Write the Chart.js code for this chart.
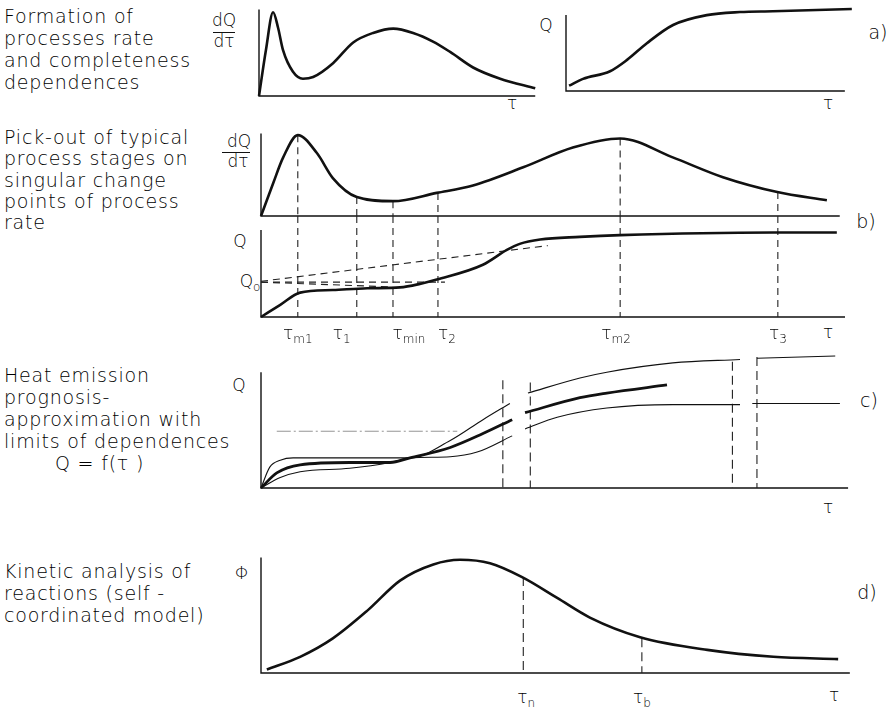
<!DOCTYPE html>
<html>
<head>
<meta charset="utf-8">
<script src="https://cdn.jsdelivr.net/npm/chart.js@4.4.1/dist/chart.umd.min.js"></script>
<style>
  html, body { margin: 0; padding: 0; background: #fff; }
  body { position: relative; width: 893px; height: 708px; overflow: hidden; font-family: "DejaVu Sans", sans-serif; font-weight: 200; color: #000; }
  canvas { position: absolute; }
  .note { position: absolute; left: 4px; font-size: 19px; line-height: 22px; letter-spacing: 0.8px; white-space: nowrap; }
  .lbl { position: absolute; transform: translate(-50%, -50%); line-height: 1; white-space: nowrap; font-size: 17px; }
  .tau { font-style: normal; font-weight: 200; }
  .lbl sub { font-style: normal; font-size: 12px; vertical-align: -4px; }
  .bar { position: absolute; height: 0; border-top: 1.5px solid #111; }
</style>
</head>
<body>

<div class="note" style="top:5px">Formation of<br>processes rate<br>and completeness<br>dependences</div>
<div class="note" style="top:127px;line-height:21.3px">Pick-out of typical<br>process stages on<br>singular change<br>points of process<br>rate</div>
<div class="note" style="top:364px">Heat emission<br>prognosis-<br>approximation with<br>limits of dependences<br><span style="padding-left:51px">Q = f(<span class="tau">τ</span> )</span></div>
<div class="note" style="top:560px">Kinetic analysis of<br>reactions (self -<br>coordinated model)</div>

<div class="lbl" style="left:224px;top:20px">dQ</div>
<div class="bar" style="left:213px;top:32px;width:22px"></div>
<div class="lbl" style="left:224px;top:41px">d<span class="tau">τ</span></div>
<div class="lbl" style="left:546px;top:25px">Q</div>

<div class="lbl" style="left:239px;top:141px">dQ</div>
<div class="bar" style="left:222px;top:152px;width:28px"></div>
<div class="lbl" style="left:238px;top:161px">d<span class="tau">τ</span></div>
<div class="lbl" style="left:240px;top:241px">Q</div>
<div class="lbl" style="left:250px;top:283px">Q<sub>o</sub></div>

<div class="lbl" style="left:239px;top:385px">Q</div>
<div class="lbl" style="left:242px;top:573px">Φ</div>

<div class="lbl tau" style="left:512px;top:103px">τ</div>
<div class="lbl tau" style="left:828px;top:103px">τ</div>
<div class="lbl tau" style="left:828px;top:332px">τ</div>
<div class="lbl tau" style="left:828px;top:507px">τ</div>
<div class="lbl tau" style="left:834px;top:695px">τ</div>

<div class="lbl" style="left:878px;top:32px;font-size:19px">a)</div>
<div class="lbl" style="left:866px;top:221px;font-size:19px">b)</div>
<div class="lbl" style="left:869px;top:400px;font-size:19px">c)</div>
<div class="lbl" style="left:867px;top:592px;font-size:19px">d)</div>

<canvas id="aRate"></canvas>
<canvas id="aQ"></canvas>
<canvas id="bRate"></canvas>
<canvas id="bQ"></canvas>
<canvas id="cQ"></canvas>
<canvas id="dPhi"></canvas>

<script>
// a) rate dQ/dτ and completeness Q against τ (τ in % of the time span)
const aRateT = [0, 2.5, 5.1, 6.9, 8.7, 12.3, 15.9, 19.6, 26.8, 34.1, 41.3, 48.6, 55.8, 63.0, 69.2, 77.5, 87.3, 100];
const aRateV = [0, 5.3, 9.7, 7.9, 5.3, 2.8, 2.0, 2.2, 3.8, 6.2, 7.3, 7.8, 7.3, 6.3, 5.1, 3.3, 2.0, 0.9];
const aQT = [1.1, 6.1, 15.8, 21.9, 29.0, 38.4, 50.5, 62.4, 74.2, 102.5];
const aQV = [0.7, 1.6, 2.6, 4.1, 6.3, 8.7, 10.0, 10.4, 10.5, 10.8];

// b) stages picked out on the rate curve
const bRateT = [0, 2.1, 3.8, 6.3, 9.6, 12.3, 16.4, 22.6, 30.1, 36.3, 44.9, 53.4, 61.5, 70.5, 79.1, 88.4, 96.9];
const bRateV = [0, 4.0, 7.1, 9.8, 7.6, 4.6, 2.3, 1.8, 2.8, 3.7, 5.9, 8.3, 9.4, 7.1, 4.7, 2.9, 1.9];
const bQT = [0, 3.3, 6.7, 12.3, 18.2, 23.8, 27.2, 30.1, 38.0, 42.1, 44.3, 47.8, 54.6, 61.5, 87.7, 98.6];
const bQV = [0, 1.4, 2.8, 3.1, 3.3, 3.4, 3.8, 4.3, 6.0, 7.7, 8.4, 8.9, 9.2, 9.4, 9.7, 9.7];
const stageNames = ['m1', '1', 'min', '2', 'm2', '3'];
const stageTau = [6.3, 16.4, 22.6, 30.3, 61.5, 88.5];
const stageRate = [9.8, 2.3, 1.8, 2.8, 9.4, 2.9];
const q0 = 4.0;
const q0FlatEnd = 31.5;
const q0Drop = [22.6, 3.45];
const q0Rise = [49.1, 8.2];

// c) prognosis with upper / lower limits
const cUpperT = [0, 1.5, 3.3, 5.5, 15.2, 25.5, 32.4, 38.0, 42.6];
const cUpperV = [0, 1.8, 2.4, 2.6, 2.6, 2.6, 4.1, 5.9, 7.3];
const cMidT = [0, 2.7, 6.7, 15.2, 22.1, 25.5, 32.4, 38.0, 43.0];
const cMidV = [0, 1.3, 2.0, 2.2, 2.2, 2.6, 3.5, 4.7, 5.9];
const cLowT = [0, 3.3, 6.7, 15.2, 22.1, 25.5, 32.4, 37.0, 43.0];
const cLowV = [0, 0.9, 1.4, 1.7, 2.2, 2.6, 2.7, 3.1, 4.5];
const cUpper2T = [45.7, 54.6, 59.2, 70.5, 82.0];
const cUpper2V = [8.2, 9.5, 10.0, 10.8, 11.1];
const cUpper3T = [84.9, 98.3];
const cUpper3V = [11.2, 11.4];
const cMid2T = [45.2, 54.6, 59.2, 69.5];
const cMid2V = [6.5, 7.8, 8.2, 8.9];
const cLow2T = [45.2, 50.7, 59.2, 70.5, 82.0];
const cLow2V = [5.1, 6.1, 6.9, 7.2, 7.2];
const cLow3T = [84.1, 99.1];
const cLow3V = [7.3, 7.3];
const cBreakT = [41.4, 46.1, 80.7, 84.9];
const cBreakV = [9.3, 9.1, 10.9, 11.3];
const cGuideT = [2.7, 33.6];
const cGuideV = 4.9;

// d) self-coordinated kinetic model
const dT = [1.0, 6.7, 12.3, 18.2, 23.8, 29.5, 34.1, 39.2, 44.7, 50.7, 56.3, 64.9, 76.4, 87.7, 98.8];
const dV = [0.3, 1.4, 3.0, 5.4, 8.0, 9.4, 9.8, 9.5, 8.3, 6.5, 4.8, 3.1, 2.0, 1.4, 1.2];
const dMarkNames = ['n', 'b'];
const dMarkT = [44.9, 65.2];
const dMarkV = [8.3, 3.0];

const INK = '#111';

const curve = (ts, vs, width = 2.6) => ({
    data: ts.map((t, i) => ({ x: t, y: vs[i] })),
    borderColor: INK,
    borderWidth: width,
    pointRadius: 0,
    cubicInterpolationMode: 'monotone',
    fill: false,
    clip: false,
});

const dashed = (pts, dash = [7, 5], width = 1.1, color = '#222') => ({
    data: pts.map(([x, y]) => ({ x, y })),
    borderColor: color,
    borderWidth: width,
    borderDash: dash,
    pointRadius: 0,
    tension: 0,
    fill: false,
    clip: false,
});

const drops = (ts, tops, bottom = 0, dash) => ts.map((t, i) => dashed([[t, tops[i]], [t, bottom]], dash));

const axesPlugin = {
    id: 'axes',
    beforeDatasetsDraw(chart, args, opts) {
        const { ctx, scales: { x, y } } = chart;
        ctx.save();
        ctx.strokeStyle = INK;
        ctx.lineWidth = 1.4;
        ctx.beginPath();
        ctx.moveTo(x.getPixelForValue(0), y.getPixelForValue(opts.yEnd));
        ctx.lineTo(x.getPixelForValue(0), y.getPixelForValue(0));
        ctx.lineTo(x.getPixelForValue(opts.xEnd), y.getPixelForValue(0));
        ctx.stroke();
        ctx.restore();
    },
};

// frame: origin (ox, oy) in page px, px per unit (kx, ky), value ranges
const panel = (id, frame, datasets, axis) => {
    const pad = 6;
    const left = Math.round(frame.ox + frame.x[0] * frame.kx);
    const right = Math.round(frame.ox + frame.x[1] * frame.kx);
    const top = Math.round(frame.oy - frame.y[1] * frame.ky);
    const bottom = Math.round(frame.oy - frame.y[0] * frame.ky);
    const canvas = document.getElementById(id);
    canvas.width = right - left + 2 * pad;
    canvas.height = bottom - top + 2 * pad;
    canvas.style.left = (left - pad) + 'px';
    canvas.style.top = (top - pad) + 'px';

    const chart = new Chart(canvas, {
        type: 'line',
        data: { datasets },
        plugins: [axesPlugin],
        options: {
            responsive: false,
            animation: false,
            devicePixelRatio: 1,
            events: [],
            layout: { padding: pad },
            plugins: {
                legend: { display: false },
                tooltip: { enabled: false },
                axes: axis,
            },
            scales: {
                x: { type: 'linear', display: false, min: frame.x[0], max: frame.x[1] },
                y: { type: 'linear', display: false, min: frame.y[0], max: frame.y[1] },
            },
        },
    });
    chart.pageLeft = left - pad;
    chart.pageTop = top - pad;
    return chart;
};

const tauLabel = (chart, t, sub, dx, pageY) => {
    const el = document.createElement('div');
    el.className = 'lbl';
    el.innerHTML = '<span class="tau">τ</span><sub>' + sub + '</sub>';
    el.style.left = (chart.pageLeft + chart.scales.x.getPixelForValue(t) + dx) + 'px';
    el.style.top = pageY + 'px';
    document.body.appendChild(el);
};

// a)
panel('aRate', { ox: 259, oy: 96, kx: 2.76, ky: 8.6, x: [0, 101], y: [0, 10.3] },
    [curve(aRateT, aRateV)], { xEnd: 100, yEnd: 10 });
panel('aQ', { ox: 566, oy: 91, kx: 2.79, ky: 7.6, x: [0, 104], y: [0, 11.2] },
    [curve(aQT, aQV)], { xEnd: 100, yEnd: 10 });

// b)
panel('bRate', { ox: 261, oy: 216, kx: 5.84, ky: 8.3, x: [0, 100], y: [0, 10.3] },
    [curve(bRateT, bRateV), ...drops(stageTau, stageRate)], { xEnd: 99.1, yEnd: 10 });
const bQ = panel('bQ', { ox: 261, oy: 317, kx: 5.84, ky: 8.7, x: [0, 100], y: [0, 11.6] },
    [
        curve(bQT, bQV),
        ...drops(stageTau, stageTau.map(() => 11.6)),
        dashed([[0, q0], [q0FlatEnd, q0]]),
        dashed([[0, q0], q0Drop]),
        dashed([[0, q0 + 0.1], q0Rise]),
    ], { xEnd: 100, yEnd: 10 });
const stageNudge = [0, -15, 16, 9, -4, 0];
stageNames.forEach((s, i) => tauLabel(bQ, stageTau[i], s, stageNudge[i], 335));

// c)
panel('cQ', { ox: 261, oy: 488, kx: 5.84, ky: 11.6, x: [0, 101], y: [0, 12] },
    [
        dashed([[cGuideT[0], cGuideV], [cGuideT[1], cGuideV]], [14, 3, 2, 3], 0.8, '#777'),
        curve(cUpperT, cUpperV, 1.1),
        curve(cMidT, cMidV, 2.8),
        curve(cLowT, cLowV, 1.1),
        curve(cUpper2T, cUpper2V, 1.1),
        curve(cUpper3T, cUpper3V, 1.1),
        curve(cMid2T, cMid2V, 2.8),
        curve(cLow2T, cLow2V, 1.1),
        curve(cLow3T, cLow3V, 1.1),
        ...drops(cBreakT, cBreakV, 0, [9, 5]),
    ], { xEnd: 100.5, yEnd: 10 });

// d)
const dChart = panel('dPhi', { ox: 261, oy: 673, kx: 5.84, ky: 11.6, x: [0, 101], y: [0, 10.3] },
    [curve(dT, dV), ...drops(dMarkT, dMarkV, 0, [9, 5])], { xEnd: 100.8, yEnd: 10 });
const dNudge = [3, 0];
dMarkNames.forEach((s, i) => tauLabel(dChart, dMarkT[i], s, dNudge[i], 699));
</script>
</body>
</html>
